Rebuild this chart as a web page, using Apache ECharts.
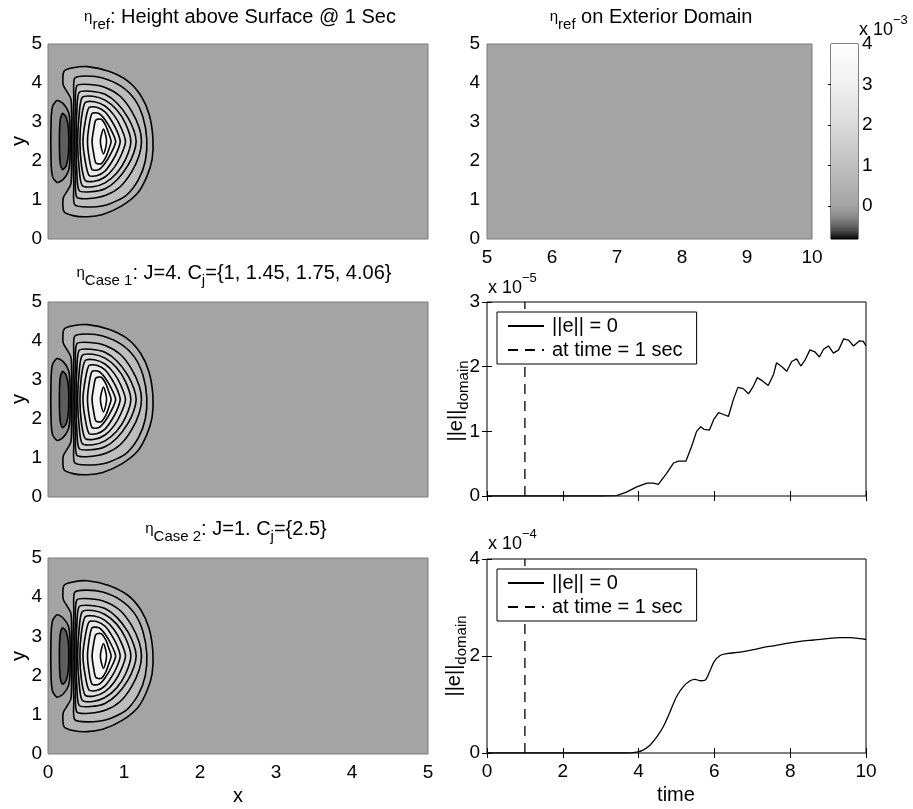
<!DOCTYPE html>
<html>
<head>
<meta charset="utf-8">
<script src="https://cdn.jsdelivr.net/npm/echarts@6/dist/echarts.min.js"></script>
<style>
  html, body { margin: 0; padding: 0; background: #ffffff; }
  #chart { width: 913px; height: 809px; }
</style>
</head>
<body>
<div id="chart"></div>
<script>
// ---------------- data ----------------
// Surface height eta, contour levels in units of 1e-3
const posLevels = [0.35, 0.70, 1.05, 1.40, 1.75, 2.10, 2.45, 2.80, 3.15, 3.50];
const negLevels = [-0.35, -0.70];

// Contour outlines (x, y), one closed ring per level, outer to inner
const posContours = [
  [[0.21,4.30],[0.33,4.39],[0.52,4.42],[0.80,4.30],[1.05,4.05],[1.22,3.68],[1.33,3.20],[1.38,2.60],[1.37,2.05],[1.30,1.60],[1.18,1.18],[0.97,0.85],[0.72,0.63],[0.52,0.57],[0.33,0.60],[0.21,0.70],[0.20,1.05],[0.25,1.22],[0.30,1.40],[0.31,1.70],[0.31,2.50],[0.31,3.30],[0.30,3.60],[0.25,3.78],[0.20,3.95]],
  [[0.35,4.12],[0.50,4.18],[0.72,4.13],[0.96,3.92],[1.14,3.58],[1.25,3.12],[1.30,2.55],[1.28,2.00],[1.19,1.52],[1.03,1.12],[0.78,0.88],[0.52,0.82],[0.35,0.88],[0.34,1.40],[0.33,2.00],[0.33,2.50],[0.33,3.00],[0.34,3.60]],
  [[0.38,3.93],[0.55,3.96],[0.76,3.88],[0.95,3.66],[1.10,3.28],[1.20,2.85],[1.23,2.50],[1.20,2.15],[1.10,1.72],[0.95,1.34],[0.76,1.12],[0.55,1.04],[0.38,1.07],[0.36,1.60],[0.35,2.50],[0.36,3.40]],
  [[0.41,3.76],[0.56,3.79],[0.75,3.71],[0.91,3.48],[1.05,3.12],[1.13,2.78],[1.16,2.50],[1.13,2.22],[1.05,1.88],[0.91,1.52],[0.75,1.29],[0.56,1.21],[0.41,1.24],[0.38,1.70],[0.37,2.50],[0.38,3.30]],
  [[0.45,3.63],[0.59,3.66],[0.75,3.56],[0.90,3.32],[1.02,2.96],[1.09,2.50],[1.02,2.04],[0.90,1.68],[0.75,1.44],[0.59,1.34],[0.45,1.37],[0.41,1.80],[0.39,2.50],[0.41,3.20]],
  [[0.49,3.50],[0.61,3.52],[0.75,3.41],[0.87,3.17],[0.96,2.86],[1.02,2.50],[0.96,2.14],[0.87,1.83],[0.75,1.59],[0.61,1.48],[0.49,1.50],[0.44,1.90],[0.42,2.50],[0.44,3.10]],
  [[0.54,3.37],[0.64,3.38],[0.75,3.26],[0.84,3.02],[0.91,2.76],[0.95,2.50],[0.91,2.24],[0.84,1.98],[0.75,1.74],[0.64,1.62],[0.54,1.63],[0.49,2.00],[0.46,2.50],[0.49,3.00]],
  [[0.58,3.22],[0.67,3.22],[0.75,3.06],[0.83,2.80],[0.89,2.50],[0.83,2.20],[0.75,1.94],[0.67,1.78],[0.58,1.78],[0.54,2.10],[0.52,2.50],[0.54,2.90]],
  [[0.63,3.05],[0.70,3.07],[0.76,2.91],[0.80,2.70],[0.83,2.50],[0.80,2.30],[0.76,2.09],[0.70,1.93],[0.63,1.95],[0.60,2.20],[0.58,2.50],[0.60,2.80]],
  [[0.73,2.82],[0.76,2.65],[0.77,2.50],[0.76,2.35],[0.73,2.18],[0.70,2.35],[0.69,2.50],[0.70,2.65]]
];
const negContours = [
  [[0.27,3.25],[0.20,3.47],[0.12,3.55],[0.06,3.40],[0.04,3.00],[0.04,2.00],[0.06,1.60],[0.12,1.45],[0.20,1.53],[0.27,1.75],[0.29,2.10],[0.29,2.90]],
  [[0.24,3.12],[0.19,3.22],[0.16,3.05],[0.15,2.50],[0.16,1.95],[0.19,1.78],[0.24,1.88],[0.27,2.20],[0.27,2.80]]
];

// Colour bar range (units of 1e-3) and its labelled ticks
const colorbarRange = [-0.82, 4];
const colorbarLabels = [0, 1, 2, 3, 4];
const colorbarTicks = [0, 1, 2, 3];

// Axis ranges
const fieldX = [0, 5], fieldY = [0, 5], exteriorX = [5, 10];
const timeRange = [0, 10];
const errRange1 = [0, 3];   // units of 1e-5
const errRange2 = [0, 4];   // units of 1e-4

// Domain error norm, case 1 (units of 1e-5)
const timeCase1 = [0, 2.98, 3.42, 3.68, 3.95, 4.22, 4.39, 4.52, 4.74, 4.92, 5.05, 5.25, 5.40, 5.53, 5.64, 5.73, 5.87, 5.98, 6.11, 6.24, 6.37, 6.50, 6.62, 6.76, 6.90, 7.03, 7.13, 7.27, 7.42, 7.56, 7.64, 7.78, 7.91, 8.04, 8.17, 8.28, 8.39, 8.52, 8.65, 8.77, 8.88, 9.01, 9.14, 9.28, 9.41, 9.54, 9.67, 9.83, 9.93, 10.0];
const errCase1 = [0, 0, 0.005, 0.06, 0.14, 0.20, 0.20, 0.18, 0.35, 0.51, 0.54, 0.54, 0.77, 1.00, 1.07, 1.03, 1.02, 1.18, 1.29, 1.26, 1.23, 1.49, 1.68, 1.66, 1.58, 1.70, 1.83, 1.78, 1.71, 1.88, 2.06, 2.00, 1.93, 2.08, 2.12, 2.01, 2.10, 2.26, 2.23, 2.15, 2.27, 2.32, 2.21, 2.26, 2.43, 2.41, 2.32, 2.40, 2.39, 2.32];

// Domain error norm, case 2 (units of 1e-4)
const timeCase2 = [0, 3.69, 3.95, 4.12, 4.30, 4.48, 4.65, 4.83, 5.00, 5.18, 5.36, 5.49, 5.62, 5.75, 5.87, 5.99, 6.15, 6.33, 6.68, 7.03, 7.30, 7.56, 7.91, 8.26, 8.61, 8.96, 9.31, 9.58, 9.84, 10.0];
const errCase2 = [0, 0, 0.02, 0.06, 0.16, 0.33, 0.54, 0.85, 1.16, 1.37, 1.49, 1.52, 1.49, 1.50, 1.67, 1.88, 2.01, 2.05, 2.08, 2.13, 2.18, 2.21, 2.26, 2.30, 2.33, 2.36, 2.38, 2.38, 2.36, 2.34];

// Reference time marker
const markerTime = 1;
const legendNames = ['||e|| = 0', 'at time = 1 sec'];

// ---------------- styling ----------------
const FONT = '"Liberation Sans", Arial, Helvetica, sans-serif';
const TICK_SIZE = 19;
// grey colour map: [value (1e-3), grey level]
const colormapStops = [[-0.82, 0], [-0.75, 30], [-0.60, 80], [-0.30, 135], [0, 164], [1, 192], [2, 218], [3, 240], [4, 254]];

function greyOf(v) {
  const s = colormapStops;
  let g;
  if (v <= s[0][0]) g = s[0][1];
  else if (v >= s[s.length - 1][0]) g = s[s.length - 1][1];
  else {
    for (let i = 0; i < s.length - 1; i++) {
      if (v >= s[i][0] && v <= s[i + 1][0]) {
        const t = (v - s[i][0]) / (s[i + 1][0] - s[i][0]);
        g = s[i][1] + t * (s[i + 1][1] - s[i][1]);
        break;
      }
    }
  }
  g = Math.round(g);
  return 'rgb(' + g + ',' + g + ',' + g + ')';
}

// filled rings: trough first, then crest from outside in;
// each ring takes the grey halfway between its level and the next level outward/inward
const fieldShapes = [];
negContours.forEach((pts, i) => {
  const outer = i > 0 ? negLevels[i - 1] : 0;
  fieldShapes.push({ pts, fill: greyOf((negLevels[i] + outer) / 2) });
});
posContours.forEach((pts, i) => {
  const inner = i + 1 < posLevels.length ? posLevels[i + 1] : colorbarRange[1];
  fieldShapes.push({ pts, fill: greyOf((posLevels[i] + inner) / 2) });
});

function fieldSeries(xi, yi, filled) {
  return {
    type: 'custom',
    xAxisIndex: xi, yAxisIndex: yi,
    silent: true,
    z: filled ? 2 : 3,
    data: fieldShapes.map((s, i) => [i]),
    renderItem: (params, api) => {
      const s = fieldShapes[api.value(0)];
      const points = s.pts.map(p => api.coord(p));
      return {
        type: 'polygon',
        shape: { points, smooth: 0.25 },
        style: filled
          ? { fill: s.fill, stroke: null }
          : { fill: null, stroke: '#000', lineWidth: 1.6 }
      };
    }
  };
}

const zeroGrey = greyOf(0);
const gridBox = (left, top, width, height, bg, border) => ({
  left, top, width, height, show: true,
  backgroundColor: bg, borderColor: border, borderWidth: 1, containLabel: false
});

const labelStyle = { fontSize: TICK_SIZE, fontFamily: FONT, color: '#000' };

function valAxis(gridIndex, range, interval, opts) {
  return Object.assign({
    gridIndex, type: 'value', min: range[0], max: range[1], interval,
    axisLine: { show: false },
    axisTick: { show: false },
    splitLine: { show: false },
    axisLabel: Object.assign({ show: true }, labelStyle)
  }, opts || {});
}

const insideTick = { show: true, inside: true, length: 5, lineStyle: { color: '#000', width: 1 } };

const option = {
  animation: false,
  backgroundColor: '#ffffff',
  grid: [
    gridBox(48, 44, 380, 195, zeroGrey, '#7a7a7a'),   // 0: eta_ref
    gridBox(487, 44, 325, 195, zeroGrey, '#7a7a7a'),  // 1: exterior domain
    gridBox(831, 44, 27, 195, 'transparent', '#000'), // 2: colour bar
    gridBox(48, 302, 380, 195, zeroGrey, '#7a7a7a'),  // 3: case 1 field
    gridBox(487, 302, 379, 194, '#fff', '#000'),      // 4: case 1 error
    gridBox(48, 558, 380, 196, zeroGrey, '#7a7a7a'),  // 5: case 2 field
    gridBox(487, 559, 379, 194, '#fff', '#000')       // 6: case 2 error
  ],
  xAxis: [
    valAxis(0, fieldX, 1, { axisLabel: { show: false } }),
    valAxis(1, exteriorX, 1, { axisLabel: Object.assign({ margin: 9 }, labelStyle) }),
    valAxis(2, [0, 1], 1, { show: false }),
    valAxis(3, fieldX, 1, { axisLabel: { show: false } }),
    valAxis(4, timeRange, 2, { axisTick: insideTick, axisLabel: { show: false } }),
    valAxis(4, timeRange, 2, { position: 'top', axisTick: insideTick, axisLabel: { show: false } }),
    valAxis(5, fieldX, 1, { axisLabel: Object.assign({ margin: 9 }, labelStyle) }),
    valAxis(6, timeRange, 2, { axisTick: insideTick, axisLabel: Object.assign({ margin: 9 }, labelStyle) }),
    valAxis(6, timeRange, 2, { position: 'top', axisTick: insideTick, axisLabel: { show: false } })
  ],
  yAxis: [
    valAxis(0, fieldY, 1, { axisLabel: Object.assign({ margin: 6 }, labelStyle) }),
    valAxis(1, fieldY, 1, { axisLabel: Object.assign({ margin: 7 }, labelStyle) }),
    {
      gridIndex: 2, type: 'value', min: colorbarRange[0], max: colorbarRange[1],
      position: 'right',
      axisLine: { show: false }, splitLine: { show: false },
      axisTick: { show: true, inside: true, length: 3, customValues: colorbarTicks, lineStyle: { color: '#000' } },
      axisLabel: Object.assign({ margin: 4, customValues: colorbarLabels }, labelStyle)
    },
    {
      gridIndex: 2, type: 'value', min: colorbarRange[0], max: colorbarRange[1],
      position: 'left',
      axisLine: { show: false }, splitLine: { show: false },
      axisTick: { show: true, inside: true, length: 3, customValues: colorbarTicks, lineStyle: { color: '#000' } },
      axisLabel: { show: false }
    },
    valAxis(3, fieldY, 1, { axisLabel: Object.assign({ margin: 6 }, labelStyle) }),
    valAxis(4, errRange1, 1, { axisTick: insideTick, axisLabel: Object.assign({ margin: 7 }, labelStyle) }),
    valAxis(4, errRange1, 1, { position: 'right', axisTick: insideTick, axisLabel: { show: false } }),
    valAxis(5, fieldY, 1, { axisLabel: Object.assign({ margin: 6 }, labelStyle) }),
    valAxis(6, errRange2, 2, { axisTick: insideTick, axisLabel: Object.assign({ margin: 7 }, labelStyle) }),
    valAxis(6, errRange2, 2, { position: 'right', axisTick: insideTick, axisLabel: { show: false } })
  ],
  legend: [0, 1].map(k => ({
    data: legendNames,
    orient: 'vertical',
    left: 497, top: k === 0 ? 312 : 569,
    itemWidth: 36, itemHeight: 12, itemGap: 4,
    padding: [4, 14, 4, 10],
    backgroundColor: '#fff', borderColor: '#000', borderWidth: 1, borderRadius: 0,
    selectedMode: false,
    itemStyle: { opacity: 0 },
    textStyle: { fontSize: 20, fontFamily: FONT, color: '#000', padding: [0, 0, 0, 3] }
  })),
  series: [
    fieldSeries(0, 0, true), fieldSeries(0, 0, false),
    fieldSeries(3, 4, true), fieldSeries(3, 4, false),
    fieldSeries(6, 7, true), fieldSeries(6, 7, false),
    {
      type: 'custom', xAxisIndex: 2, yAxisIndex: 2, silent: true,
      data: [[0]],
      renderItem: (params, api) => {
        const a = api.coord([0, colorbarRange[1]]);
        const b = api.coord([1, colorbarRange[0]]);
        const span = colorbarRange[1] - colorbarRange[0];
        return {
          type: 'rect',
          shape: { x: a[0], y: a[1], width: b[0] - a[0], height: b[1] - a[1] },
          style: {
            fill: {
              type: 'linear', x: 0, y: 0, x2: 0, y2: 1,
              colorStops: colormapStops.slice().reverse().map(s => ({
                offset: (colorbarRange[1] - s[0]) / span, color: greyOf(s[0])
              }))
            }
          }
        };
      }
    },
    {
      name: legendNames[0], type: 'line', xAxisIndex: 4, yAxisIndex: 5,
      data: timeCase1.map((t, i) => [t, errCase1[i]]),
      symbol: 'none', lineStyle: { color: '#000', width: 1.3 }, itemStyle: { color: '#000' }
    },
    {
      name: legendNames[1], type: 'line', xAxisIndex: 4, yAxisIndex: 5,
      data: [[markerTime, errRange1[0]], [markerTime, errRange1[1]]],
      symbol: 'none', lineStyle: { color: '#000', width: 1.3, type: [10, 7] }, itemStyle: { color: '#000' }
    },
    {
      name: legendNames[0], type: 'line', xAxisIndex: 7, yAxisIndex: 8,
      data: timeCase2.map((t, i) => [t, errCase2[i]]),
      smooth: 0.3,
      symbol: 'none', lineStyle: { color: '#000', width: 1.3 }, itemStyle: { color: '#000' }
    },
    {
      name: legendNames[1], type: 'line', xAxisIndex: 7, yAxisIndex: 8,
      data: [[markerTime, errRange2[0]], [markerTime, errRange2[1]]],
      symbol: 'none', lineStyle: { color: '#000', width: 1.3, type: [10, 7] }, itemStyle: { color: '#000' }
    }
  ],
  graphic: []
};

// titles, axis names and exponent labels
const titleRich = {
  e: { fontSize: 15, fontFamily: FONT, lineHeight: 30, verticalAlign: 'middle' },
  s: { fontSize: 15, fontFamily: FONT, lineHeight: 15, verticalAlign: 'bottom' }
};
const expRich = {
  p: { fontSize: 13, fontFamily: FONT, lineHeight: 13, verticalAlign: 'top' }
};
function label(text, x, y, rotation, size) {
  return {
    type: 'text', x, y, rotation: rotation || 0, silent: true,
    style: {
      text, x: 0, y: 0, align: 'center', verticalAlign: 'middle',
      fontSize: size || 20, fontFamily: FONT, lineHeight: 30, fill: '#000', rich: titleRich
    }
  };
}
function exponent(text, x, y) {
  return {
    type: 'text', x, y, silent: true,
    style: {
      text, x: 0, y: 0, align: 'left', verticalAlign: 'middle',
      fontSize: 18, fontFamily: FONT, lineHeight: 32, fill: '#000', rich: expRich
    }
  };
}

option.graphic = [
  label('{e|η}{s|ref}: Height above Surface @ 1 Sec', 240, 17),
  label('{e|η}{s|ref} on Exterior Domain', 651, 17),
  label('{e|η}{s|Case 1}: J=4. C{s|j}={1, 1.45, 1.75, 4.06}', 234, 273),
  label('{e|η}{s|Case 2}: J=1. C{s|j}={2.5}', 236, 529),
  label('y', 19, 141, Math.PI / 2),
  label('y', 19, 399, Math.PI / 2),
  label('y', 19, 656, Math.PI / 2),
  label('x', 238, 796, 0),
  label('time', 676, 795, 0),
  label('||e||{s|domain}', 456, 401, Math.PI / 2),
  label('||e||{s|domain}', 454, 656, Math.PI / 2),
  exponent('x 10{p|−3}', 859, 30),
  exponent('x 10{p|−5}', 488, 288),
  exponent('x 10{p|−4}', 488, 544)
];

const chart = echarts.init(document.getElementById('chart'), null, { renderer: 'canvas' });
chart.setOption(option);
</script>
</body>
</html>
